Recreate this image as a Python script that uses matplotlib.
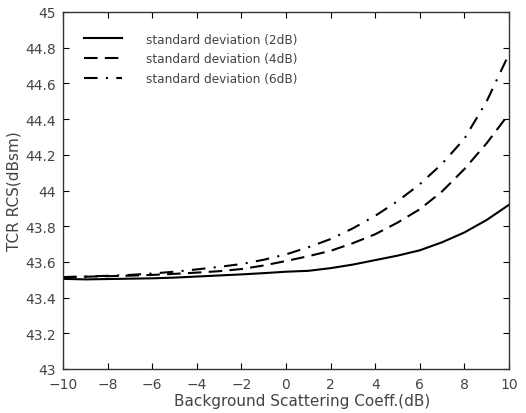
import matplotlib
matplotlib.use("Agg")
import matplotlib.pyplot as plt

# background scattering coefficient (dB)
bg_coeff = [-10, -9, -8, -7, -6, -5, -4, -3, -2, -1, 0, 1, 2, 3, 4, 5, 6, 7, 8, 9, 10]

# TCR RCS (dBsm) for each standard deviation
rcs_2db = [43.505, 43.502, 43.504, 43.506, 43.508, 43.512, 43.518, 43.524, 43.530, 43.537,
           43.545, 43.550, 43.565, 43.585, 43.610, 43.635, 43.665, 43.710, 43.765, 43.835, 43.920]
rcs_4db = [43.515, 43.517, 43.520, 43.523, 43.527, 43.533, 43.540, 43.548, 43.560, 43.580,
           43.605, 43.632, 43.662, 43.705, 43.755, 43.820, 43.895, 43.995, 44.120, 44.265, 44.430]
rcs_6db = [43.515, 43.518, 43.522, 43.527, 43.535, 43.545, 43.558, 43.572, 43.588, 43.612,
           43.642, 43.682, 43.728, 43.788, 43.858, 43.940, 44.035, 44.150, 44.290, 44.500, 44.765]

labels = ["standard deviation (2dB)", "standard deviation (4dB)", "standard deviation (6dB)"]

xticks = list(range(-10, 11, 2))
yticks = [43, 43.2, 43.4, 43.6, 43.8, 44, 44.2, 44.4, 44.6, 44.8, 45]
ytick_labels = ["43", "43.2", "43.4", "43.6", "43.8", "44", "44.2", "44.4", "44.6", "44.8", "45"]

plt.rcParams["font.family"] = "DejaVu Sans"
txt = "#444444"

fig = plt.figure(figsize=(5.26, 4.14), dpi=100)
ax = fig.add_axes([63 / 526, 1 - 370 / 414, 446 / 526, 357 / 414])

ax.plot(bg_coeff, rcs_2db, color="black", lw=1.5, ls="-", label=labels[0])
ax.plot(bg_coeff, rcs_4db, color="black", lw=1.5, ls=(0, (6.5, 3.5)), label=labels[1])
ax.plot(bg_coeff, rcs_6db, color="black", lw=1.5, ls=(0, (6.5, 4, 1, 4)), label=labels[2])

ax.set_xlim(-10, 10)
ax.set_ylim(43, 45)
ax.set_xticks(xticks)
ax.set_xticklabels([str(v).replace("-", "\u2212") for v in xticks])
ax.set_yticks(yticks)
ax.set_yticklabels(ytick_labels)
ax.tick_params(direction="in", top=True, right=True, length=4, labelsize=10, labelcolor=txt)
ax.tick_params(axis="x", pad=6)
ax.tick_params(axis="y", pad=5)
for s in ax.spines.values():
    s.set_color("#333333")
    s.set_linewidth(1.0)

ax.set_xlabel("Background Scattering Coeff.(dB)", fontsize=11, color=txt)
ax.xaxis.set_label_coords(0.536, -0.068)
ax.set_ylabel("TCR RCS(dBsm)", fontsize=11, color=txt, labelpad=3)

leg = ax.legend(loc="upper left", frameon=False, fontsize=8.7, handlelength=3.2,
                handletextpad=2.0, labelspacing=0.55, borderaxespad=1.3)
for t in leg.get_texts():
    t.set_color(txt)

fig.savefig("out.png", dpi=100)
